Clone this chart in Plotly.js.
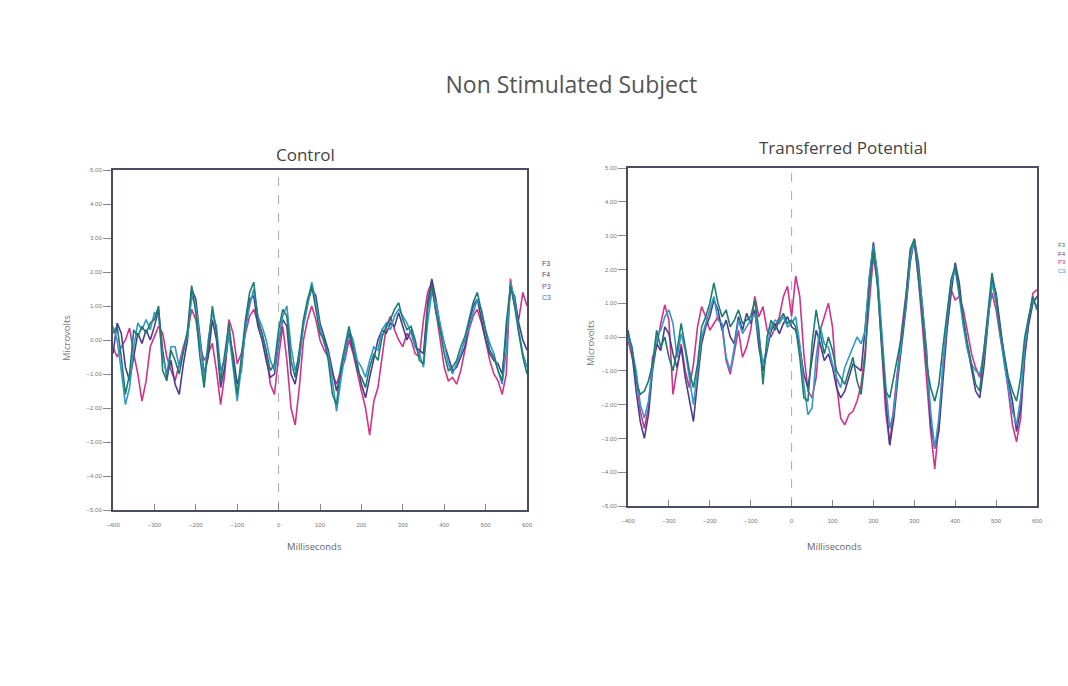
<!DOCTYPE html>
<html>
<head>
<meta charset="utf-8">
<script src="https://cdn.plot.ly/plotly-3.0.1.min.js"></script>
<style>html,body{margin:0;padding:0;background:#fff;}#chart{width:1068px;height:686px;}</style>
</head>
<body>
<div id="chart"></div>
<script>
const timeMs = [-400,-390,-380,-370,-360,-350,-340,-330,-320,-310,-300,-290,-280,-270,-260,-250,-240,-230,-220,-210,-200,-190,-180,-170,-160,-150,-140,-130,-120,-110,-100,-90,-80,-70,-60,-50,-40,-30,-20,-10,0,10,20,30,40,50,60,70,80,90,100,110,120,130,140,150,160,170,180,190,200,210,220,230,240,250,260,270,280,290,300,310,320,330,340,350,360,370,380,390,400,410,420,430,440,450,460,470,480,490,500,510,520,530,540,550,560,570,580,590,600];

const seriesNames = ["F3", "F4", "P3", "C3"];
const panelTitles = ["Control", "Transferred Potential"];
const mainTitle = "Non Stimulated Subject";
const xAxisLabel = "Milliseconds";
const yAxisLabel = "Microvolts";

// Control panel (microvolts)
const controlF3 = [0.2,0.4,-0.5,-1.6,-1.0,0.3,0.1,0.4,0.2,0.5,0.6,1.0,-0.9,-1.2,-0.3,-0.6,-1.0,-0.4,0.3,1.6,0.8,-0.5,-1.4,-0.2,1.0,0.2,-1.2,-0.4,0.5,-0.6,-1.6,-0.5,0.6,1.4,1.7,0.6,0.2,-0.3,-0.9,-0.7,0.3,0.9,0.7,-0.6,-1.1,-0.3,0.6,1.2,1.6,0.9,0.2,0.0,-0.6,-1.6,-1.9,-0.8,-0.2,0.4,-0.2,-0.9,-1.1,-1.4,-0.8,-0.4,-0.6,0.1,0.4,0.6,0.9,1.1,0.6,0.3,0.4,0.0,-0.6,-0.7,0.9,1.6,0.8,0.3,-0.4,-0.9,-0.8,-0.6,-0.2,0.1,0.6,1.1,1.4,0.8,0.2,-0.3,-0.5,-0.9,-1.2,0.5,1.6,1.0,0.2,-0.5,-1.0];
const controlF4 = [-0.4,0.5,0.2,-0.8,-1.2,-0.5,0.2,-0.1,0.3,0.0,0.4,0.9,-0.3,-1.1,-0.6,-1.3,-1.6,-0.7,0.0,1.5,1.2,0.1,-1.0,-0.5,0.6,0.0,-1.4,-0.8,0.2,-0.4,-1.3,-0.9,0.4,1.2,1.3,0.4,0.0,-0.6,-1.1,-1.0,-0.1,0.6,0.4,-1.0,-1.3,-0.6,0.5,1.1,1.5,1.3,0.5,0.1,-0.3,-0.9,-1.5,-1.0,-0.4,0.2,-0.3,-0.7,-1.3,-1.7,-1.1,-0.5,0.0,0.3,0.2,0.5,0.4,0.8,0.4,0.0,0.3,-0.2,-0.3,-0.4,1.1,1.8,1.2,0.4,-0.1,-0.5,-0.9,-0.8,-0.5,-0.2,0.5,1.0,1.2,0.6,0.0,-0.4,-0.6,-0.7,-1.0,0.2,1.5,1.3,0.5,0.0,-0.3];
const controlP3 = [-0.2,-0.5,-0.2,0.0,0.35,-0.4,-1.0,-1.8,-1.2,-0.2,0.1,0.4,0.2,-0.5,-0.9,-1.2,-0.7,-0.2,0.2,0.9,0.6,-0.2,-0.6,-0.4,-0.1,-0.9,-1.9,-1.0,0.6,0.2,-0.7,-0.4,0.2,0.7,0.9,0.5,0.2,-0.4,-1.3,-1.6,-0.5,0.4,-0.6,-2.0,-2.5,-1.4,0.0,0.6,1.0,0.6,0.0,-0.3,-0.5,-1.0,-1.3,-0.9,-0.6,0.0,-0.4,-1.0,-1.5,-2.0,-2.8,-1.8,-1.4,-0.5,0.4,0.7,0.3,0.0,-0.2,0.2,0.0,-0.4,-0.5,0.6,1.4,1.7,0.9,0.0,-0.8,-1.2,-1.1,-1.3,-0.9,-0.3,0.3,0.7,0.9,0.5,0.0,-0.6,-1.0,-1.2,-1.6,-1.0,1.8,1.0,0.6,1.4,1.0];
const controlC3 = [0.4,0.0,-0.9,-1.9,-1.4,-0.2,0.5,0.3,0.6,0.3,0.8,0.7,-0.5,-1.0,-0.2,-0.2,-0.8,-0.3,0.1,1.3,1.0,0.0,-1.2,0.0,0.8,0.4,-0.9,-0.6,0.2,-0.9,-1.8,-0.8,0.3,1.0,1.5,0.7,0.4,0.0,-0.6,-0.9,0.0,0.7,1.0,-0.2,-0.9,-0.5,0.4,1.0,1.7,1.1,0.4,-0.1,-0.4,-1.2,-2.1,-1.2,-0.5,0.3,0.0,-0.6,-0.8,-1.1,-0.6,-0.2,-0.3,0.3,0.5,0.3,0.7,0.9,0.7,0.5,0.2,-0.2,-0.4,-0.8,0.5,1.4,1.1,0.5,-0.2,-0.7,-1.0,-0.7,-0.4,0.0,0.4,0.8,1.2,0.9,0.3,-0.1,-0.4,-0.9,-1.3,-0.3,1.7,1.2,0.3,-0.4,-0.8];

// Transferred Potential panel (microvolts)
const transferF3 = [0.1,-0.3,-1.3,-1.7,-1.6,-1.3,-0.8,0.2,-0.3,0.0,-0.6,-1.0,-0.4,0.4,-0.3,-1.0,-1.5,-0.8,0.3,0.6,1.0,1.6,1.0,0.6,0.8,0.3,0.5,0.8,0.4,0.5,0.6,1.1,0.2,-1.4,0.0,0.5,0.2,0.5,0.7,0.4,0.5,0.3,-0.6,-1.8,-1.9,-0.2,0.8,0.1,-0.5,0.0,-0.4,-1.0,-1.2,-1.4,-1.0,-0.6,-1.3,-1.7,-0.6,1.5,2.6,1.5,-0.2,-1.6,-1.8,-1.2,-0.5,0.1,1.2,2.6,2.9,1.8,0.6,-0.8,-1.5,-1.9,-1.4,-0.3,0.8,1.7,2.1,1.3,0.6,-0.2,-0.8,-1.4,-1.6,-0.5,0.8,1.9,1.2,0.2,-0.5,-1.2,-1.6,-1.9,-1.2,0.0,0.6,1.2,0.8];
const transferF4 = [0.2,-0.5,-1.6,-2.5,-3.0,-2.3,-1.0,-0.2,-0.4,0.3,0.1,-0.5,-0.9,-0.3,-1.2,-1.9,-2.5,-1.3,-0.2,0.3,0.6,1.1,0.8,0.2,0.5,0.0,-0.2,0.6,0.2,0.7,0.4,0.8,-0.3,-1.0,-0.4,0.2,0.4,0.1,0.4,0.6,0.3,0.2,-0.3,-1.1,-1.5,-0.7,0.2,-0.2,-0.7,-0.5,-0.9,-1.5,-1.8,-1.6,-1.2,-0.8,-0.9,-1.0,0.3,1.7,2.8,1.8,0.0,-1.8,-3.2,-2.4,-1.2,-0.2,0.9,2.2,2.9,2.2,1.0,-0.4,-2.6,-3.3,-2.8,-1.2,0.2,1.3,2.2,1.6,0.5,-0.3,-1.0,-1.6,-1.8,-0.9,0.4,1.7,1.3,0.3,-0.6,-1.3,-1.9,-2.8,-2.1,-0.5,0.4,1.0,1.2];
const transferP3 = [-0.1,-0.6,-1.1,-2.2,-2.7,-2.1,-0.6,-0.3,0.4,0.95,0.5,-1.7,-0.9,-0.2,-1.0,-1.5,-0.8,0.3,0.9,0.6,0.2,0.4,0.6,0.3,-0.7,-1.1,-0.5,0.2,-0.6,-0.3,0.2,1.2,0.6,0.9,0.2,0.0,0.3,0.6,1.2,1.5,0.6,1.8,1.2,-0.5,-1.6,-1.8,-1.2,0.2,0.6,1.0,0.3,-1.4,-2.4,-2.6,-2.3,-2.2,-1.9,-1.4,-0.4,1.0,2.4,1.6,-0.4,-2.2,-3.2,-2.0,-0.8,0.3,1.3,2.5,2.8,1.7,0.3,-1.2,-2.8,-3.9,-2.6,-0.8,0.4,1.4,1.1,1.2,0.8,0.2,-0.5,-0.9,-1.2,-0.4,0.6,1.3,0.8,0.0,-0.7,-1.6,-2.6,-3.1,-2.4,-0.6,0.5,1.3,1.4];
const transferC3 = [0.0,-0.4,-1.0,-2.0,-2.4,-1.9,-0.9,0.0,0.2,0.6,0.8,0.4,-0.6,0.1,-0.4,-1.2,-2.0,-1.0,0.0,0.4,0.8,1.2,0.5,0.4,-0.6,-1.0,-0.3,0.5,0.1,0.3,0.5,0.7,0.0,-0.8,-0.3,0.3,0.5,0.4,0.6,0.3,0.4,0.6,-0.2,-1.4,-2.3,-2.1,-0.6,0.3,-0.2,-0.3,-0.8,-1.2,-1.5,-0.9,-0.6,-0.3,0.0,-0.2,0.2,1.8,2.7,1.9,0.3,-1.4,-2.7,-2.2,-1.0,0.0,1.0,2.3,2.9,2.0,0.9,-0.6,-2.2,-3.3,-2.4,-0.9,0.5,1.6,2.0,1.2,0.3,-0.4,-0.8,-1.0,-1.1,-0.6,0.5,1.6,1.0,0.1,-0.8,-1.5,-2.2,-2.6,-1.8,-0.3,0.6,1.1,0.9];

const seriesColors = ["#1c7d6d", "#4a3e8c", "#cf3489", "#3497c9"];
const drawOrder = [2, 1, 3, 0];

const controlData = [controlF3, controlF4, controlP3, controlC3];
const transferData = [transferF3, transferF4, transferP3, transferC3];

const traces = [];
drawOrder.forEach(i => {
  traces.push({x: timeMs, y: controlData[i], type: 'scatter', mode: 'lines', name: seriesNames[i],
    line: {color: seriesColors[i], width: 1.6}, xaxis: 'x', yaxis: 'y', showlegend: false, hoverinfo: 'skip'});
});
drawOrder.forEach(i => {
  traces.push({x: timeMs, y: transferData[i], type: 'scatter', mode: 'lines', name: seriesNames[i],
    line: {color: seriesColors[i], width: 1.6}, xaxis: 'x2', yaxis: 'y2', showlegend: false, hoverinfo: 'skip'});
});

const tickFont = {family: 'Liberation Sans, Arial, sans-serif', size: 6, color: '#777'};
const frameColor = '#4b4e5e';
function xAx(domain, anchor) {
  return {domain: domain, anchor: anchor, range: [-400, 600], dtick: 100, tick0: -400,
    showgrid: false, zeroline: false, showline: true, mirror: true, linecolor: frameColor, linewidth: 2,
    ticks: 'inside', ticklen: 6, tickcolor: '#888', tickwidth: 1, tickfont: tickFont, ticklabelstandoff: 8};
}
function yAx(domain, anchor) {
  return {domain: domain, anchor: anchor, range: [-5, 5], dtick: 1, tickformat: '.2f',
    showgrid: false, zeroline: false, showline: true, mirror: true, linecolor: frameColor, linewidth: 2,
    ticks: 'outside', ticklen: 8, tickcolor: '#888', tickwidth: 1, tickfont: tickFont};
}

function ann(text, px, py, size, color, extra) {
  return Object.assign({text: text, x: px/1068, y: 1 - py/686, xref: 'paper', yref: 'paper', showarrow: false,
    xanchor: 'center', yanchor: 'middle', font: {family: 'Open Sans, sans-serif', size: size, color: color}}, extra || {});
}
const annotations = [
  ann(panelTitles[0], 305, 155, 17, '#444'),
  ann(panelTitles[1], 843, 148, 17, '#444'),
  ann(xAxisLabel, 314, 546, 9.5, '#666'),
  ann(xAxisLabel, 834, 546, 9.5, '#666'),
  ann(yAxisLabel, 66, 338, 9.5, '#777', {textangle: -90}),
  ann(yAxisLabel, 590, 343, 9.5, '#777', {textangle: -90})
];
const legendLeftColors = ["#3b5a6a", "#3d4a78", "#7a4aa0", "#3a6fc0"];
seriesNames.forEach((n, i) => {
  annotations.push(ann(n, 546, 263 + i*11.5, 7, legendLeftColors[i], {font: {family: 'Liberation Sans, Arial', size: 7, color: legendLeftColors[i]}}));
  annotations.push(ann(n, 1062, 245 + i*8.5, 6, seriesColors[i], {font: {family: 'Liberation Sans, Arial', size: 6, color: seriesColors[i]}}));
});

const layout = {
  width: 1068, height: 686,
  margin: {l: 0, r: 0, t: 0, b: 0},
  paper_bgcolor: '#ffffff', plot_bgcolor: '#ffffff',
  title: {text: mainTitle, x: 0.535, xanchor: 'center', y: 1 - 85/686, yanchor: 'middle',
    font: {family: 'Open Sans, sans-serif', size: 23, color: '#555'}},
  xaxis: xAx([113/1068, 527/1068], 'y'),
  yaxis: yAx([1 - 510/686, 1 - 170/686], 'x'),
  xaxis2: xAx([628/1068, 1037/1068], 'y2'),
  yaxis2: yAx([1 - 506/686, 1 - 168/686], 'x2'),
  shapes: [
    {type: 'line', xref: 'x', yref: 'y domain', x0: 0, x1: 0, y0: 0, y1: 1, line: {color: '#aaa', width: 1, dash: 'dash'}, layer: 'below'},
    {type: 'line', xref: 'x2', yref: 'y2 domain', x0: 0, x1: 0, y0: 0, y1: 1, line: {color: '#aaa', width: 1, dash: 'dash'}, layer: 'below'}
  ],
  annotations: annotations,
  showlegend: false
};

Plotly.newPlot('chart', traces, layout, {displayModeBar: false, staticPlot: true});
</script>
</body>
</html>
